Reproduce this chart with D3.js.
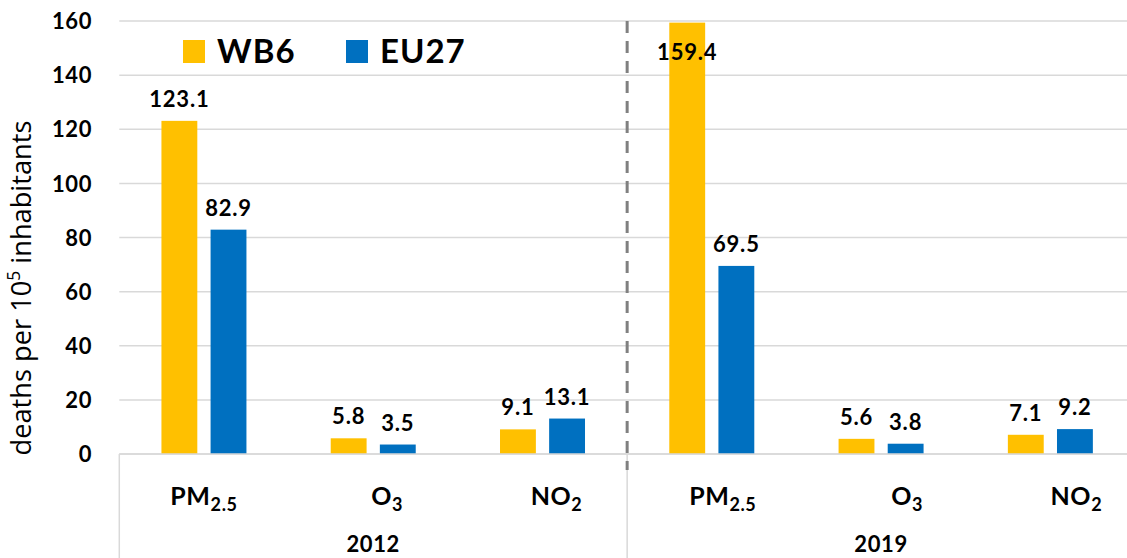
<!DOCTYPE html>
<html><head><meta charset="utf-8">
<script src="https://cdn.jsdelivr.net/npm/d3@7"></script>
<style>body{margin:0;background:#fff}svg{display:block;font-family:Lato,"Open Sans",sans-serif}</style>
</head><body><svg id="c" width="1127" height="558"></svg>
<script>
const years = ["2012","2019"];
const pollutants = [["PM","2.5"],["O","3"],["NO","2"]];
const seriesNames = ["WB6","EU27"];
const wb6 = [123.1, 5.8, 9.1, 159.4, 5.6, 7.1];
const eu27 = [82.9, 3.5, 13.1, 69.5, 3.8, 9.2];
const yTicks = [0,20,40,60,80,100,120,140,160];

const colors = ["#FFC000","#0070C0"];
const labelNudge = [0, 14, 14, 11, 26, 26];

const svg = d3.select("#c");
const pLeft = 119.3, pRight = 1135, pTop = 21, pBottom = 454;
const cats = d3.range(6);
const x = d3.scaleBand().domain(cats).range([pLeft, pRight]);
const x1 = d3.scaleBand().domain([0,1]).range([0, 85]).paddingInner(0.27);
const y = d3.scaleLinear().domain([0,160]).range([pBottom, pTop]);

// gridlines
svg.append("g").selectAll("line").data(yTicks).join("line")
  .attr("x1", pLeft).attr("x2", 1127).attr("y1", d=>y(d)).attr("y2", d=>y(d))
  .attr("stroke","#d9d9d9").attr("stroke-width",1.5);

// y axis labels
const yAxis = d3.axisLeft(y).tickValues(yTicks).tickSize(0).tickPadding(0);
const ya = svg.append("g").attr("transform","translate(92,0)").call(yAxis);
ya.select(".domain").remove();
ya.selectAll("text").attr("font-size",22).attr("font-weight","bold").attr("fill","#000")
  .attr("font-family","Lato,sans-serif").attr("letter-spacing",0.6).attr("dy","0.35em");

// y title
const yt = svg.append("text").attr("transform","translate(31,288) rotate(-90)")
  .attr("text-anchor","middle").attr("font-size",22).attr("fill","#000")
  .attr("font-family","'Open Sans',sans-serif");
yt.append("tspan").text("deaths per 10");
yt.append("tspan").text("5").attr("font-size",14).attr("dy",-9);
yt.append("tspan").text(" inhabitants").attr("dy",9);
{
  const len = yt.node().getComputedTextLength();
  const fs = 22 * 335 / len;
  yt.attr("font-size", fs);
  yt.select("tspan:nth-child(2)").attr("font-size", fs*0.64).attr("dy", -fs*0.4);
  yt.select("tspan:nth-child(3)").attr("dy", fs*0.4);
}

// bars
const series = [wb6, eu27];
series.forEach((vals, si) => {
  svg.append("g").selectAll("rect").data(vals).join("rect")
    .attr("x", (d,i)=> x(i) + x.bandwidth()/2 - 42.5 + x1(si))
    .attr("width", x1.bandwidth())
    .attr("y", d=>y(d)).attr("height", d=>pBottom - y(d))
    .attr("fill", colors[si]);
  svg.append("g").selectAll("text").data(vals).join("text")
    .attr("x", (d,i)=> x(i) + x.bandwidth()/2 - 42.5 + x1(si) + x1.bandwidth()/2)
    .attr("y", d=> Math.max(y(d) - 14, 60))
    .attr("text-anchor","middle").attr("font-size",22).attr("font-weight","bold")
    .attr("letter-spacing",0.8)
    .attr("fill","#000").text(d=>d.toFixed(1));
});

// bottom axis line
svg.append("line").attr("x1",pLeft).attr("x2",1127).attr("y1",pBottom).attr("y2",pBottom)
  .attr("stroke","#d9d9d9").attr("stroke-width",1.5);
[0,3].forEach(i=>{
  svg.append("line").attr("x1",x(i)).attr("x2",x(i)).attr("y1",pBottom).attr("y2",558)
    .attr("stroke","#d9d9d9").attr("stroke-width",1.5);
});

// dashed separator
svg.append("line").attr("x1",x(3)).attr("x2",x(3)).attr("y1",pTop).attr("y2",470)
  .attr("stroke","#808080").attr("stroke-width",3).attr("stroke-dasharray","12,8");

// category labels
cats.forEach(i=>{
  const p = pollutants[i%3];
  const t = svg.append("text").attr("x", x(i)+x.bandwidth()/2 + labelNudge[i]).attr("y",505)
    .attr("text-anchor","middle").attr("font-size",25).attr("font-weight","bold").attr("fill","#000")
    .attr("letter-spacing",0.6);
  t.append("tspan").text(p[0]);
  t.append("tspan").text(p[1]).attr("font-size",18).attr("dy",6);
});
years.forEach((yr,k)=>{
  svg.append("text").attr("x", x(k*3+1)+x.bandwidth()/2).attr("y",552)
    .attr("text-anchor","middle").attr("font-size",22).attr("font-weight","bold").attr("fill","#000")
    .attr("letter-spacing",0.6).text(yr);
});

// legend
const lg = [{x:183,tx:217},{x:346,tx:380}];
seriesNames.forEach((n,i)=>{
  svg.append("rect").attr("x",lg[i].x).attr("y",40).attr("width",22).attr("height",23).attr("fill",colors[i]);
  svg.append("text").attr("x",lg[i].tx).attr("y",63).attr("font-size",33).attr("font-weight","bold")
    .attr("letter-spacing",1).attr("fill","#000").text(n);
});
</script></body></html>
